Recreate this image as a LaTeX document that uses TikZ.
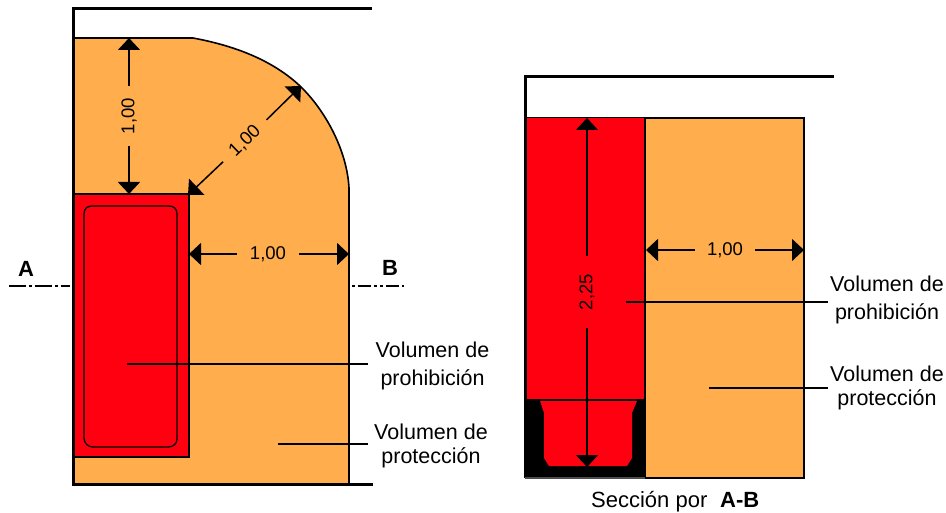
\documentclass[tikz,border=0pt]{standalone}
\usepackage{fontspec}
\setmainfont{Liberation Sans}
\usetikzlibrary{arrows.meta}
\definecolor{prot}{HTML}{FFAD4D}
\definecolor{proh}{HTML}{FF0010}
\tikzset{
  x=1pt,y=-1pt,
  wall/.style={line width=3pt,line cap=butt,line join=miter},
  edge/.style={line width=1.6pt},
  thinedge/.style={line width=1.3pt},
  dimline/.style={line width=1.5pt,-{Triangle[length=12pt,width=22pt]}},
  leader/.style={line width=1.4pt},
  axisline/.style={line width=1.4pt,dash pattern=on 17pt off 3pt on 3pt off 3pt},
  dimtext/.style={font=\fontsize{18.5}{20}\selectfont,inner sep=0pt},
  labwide/.style={font=\fontsize{21.5}{28}\selectfont,align=center,inner sep=0pt},
  labtight/.style={font=\fontsize{21.5}{24}\selectfont,align=center,inner sep=0pt},
  cut/.style={font=\fontsize{22}{24}\bfseries\selectfont,inner sep=0pt},
}
\begin{document}
\begin{tikzpicture}
\useasboundingbox (0,0) rectangle (946,513);
% left view
\filldraw[fill=prot,draw=black,edge] (73,38) -- (193,38) .. controls (225,44) and (268,56) .. (300,86) .. controls (325,110) and (347,150) .. (349,188) -- (349,484) -- (73,484) -- cycle;
\filldraw[fill=proh,draw=black,edge] (73,194) rectangle (189,457);
\draw[thinedge] (84,214) .. controls (84,208) and (88,206) .. (92,206) -- (169,206) .. controls (174,206) and (177,209) .. (177,214) -- (177,439) .. controls (177,444) and (173,447) .. (168,447) -- (93,447) .. controls (88,447) and (84,443) .. (84,438) -- cycle;
\draw[wall] (372,9) -- (73,9) -- (73,484) -- (373,484);
% left dimensions
\coordinate (lvt) at (129,38); \coordinate (lvb) at (129,194);
\coordinate (ldt) at (301,86); \coordinate (ldb) at (188,195);
\coordinate (lhl) at (189,254); \coordinate (lhr) at (349,254);
\node[dimtext,rotate=90,minimum width=60pt,minimum height=16pt] (lv) at (129,116) {1,00};
\node[dimtext,rotate=44,minimum width=60pt,minimum height=16pt] (ld) at (245,141) {1,00};
\node[dimtext,minimum width=62pt,minimum height=16pt] (lh) at (268,254) {1,00};
\draw[dimline] (lv) -- (lvt);
\draw[dimline] (lv) -- (lvb);
\draw[dimline] (ld) -- (ldt);
\draw[dimline] (ld) -- (ldb);
\draw[dimline] (lh) -- (lhl);
\draw[dimline] (lh) -- (lhr);
% cut line
\node[cut] (ca) at (26,269) {A};
\node[cut] (cb) at (390,268) {B};
\coordinate (a1) at (9,286); \coordinate (a2) at (70,286);
\coordinate (b1) at (352,286); \coordinate (b2) at (404,286);
\draw[axisline] (a1) -- (a2);
\draw[axisline,dash pattern=on 3pt off 3pt on 13pt off 3pt on 3pt off 3pt] (b1) -- (b2);
% left labels
\node[labwide] (l1) at (432.5,366) {Volumen de\\prohibición};
\node[labtight] (l2) at (431,446) {Volumen de\\protección};
\coordinate (l1s) at (127,364); \coordinate (l1e) at (368,364);
\coordinate (l2s) at (278,444); \coordinate (l2e) at (368,444);
\draw[leader] (l1s) -- (l1e);
\draw[leader] (l2s) -- (l2e);
% right view
\filldraw[fill=prot,draw=black,thinedge] (645,118) rectangle (804,478);
\fill[black] (526,398) rectangle (645,478);
\fill[proh] (527,118) rectangle (645,399);
\fill[proh] (540,401) -- (637,401) -- (632,413) -- (632,458) -- (627,466) -- (549,466) -- (544,458) -- (544,413) -- cycle;
\draw[line width=1pt] (526,118) -- (645,118);
\draw[thinedge] (645,118) -- (645,478);
\draw[wall] (834,77) -- (525,77) -- (525,478);
\draw[line width=1.2pt,black!70] (525,478) -- (645,478);
% right dimensions
\coordinate (rvt) at (587,118); \coordinate (rvb) at (587,467);
\coordinate (rhl) at (646,250); \coordinate (rhr) at (804,250);
\node[dimtext,rotate=90,minimum width=71pt,minimum height=16pt] (rv) at (587,292) {2,25};
\node[dimtext,minimum width=60pt,minimum height=16pt] (rh) at (725,250) {1,00};
\draw[dimline] (rv) -- (rvt);
\draw[dimline] (rv) -- (rvb);
\draw[dimline] (rh) -- (rhl);
\draw[dimline] (rh) -- (rhr);
% right labels
\node[labwide] (r1) at (887,300) {Volumen de\\prohibición};
\node[labtight] (r2) at (887,388) {Volumen de\\protección};
\coordinate (r1s) at (626,302); \coordinate (r1e) at (828,302);
\coordinate (r2s) at (709,388); \coordinate (r2e) at (828,388);
\draw[leader] (r1s) -- (r1e);
\draw[leader] (r2s) -- (r2e);
% caption
\node[font=\fontsize{22}{24}\selectfont,inner sep=0pt,anchor=base west] (cap1) at (591,507) {Sección por};
\node[cut,anchor=base west] (cap2) at (720,507) {A-B};
\end{tikzpicture}
\end{document}
